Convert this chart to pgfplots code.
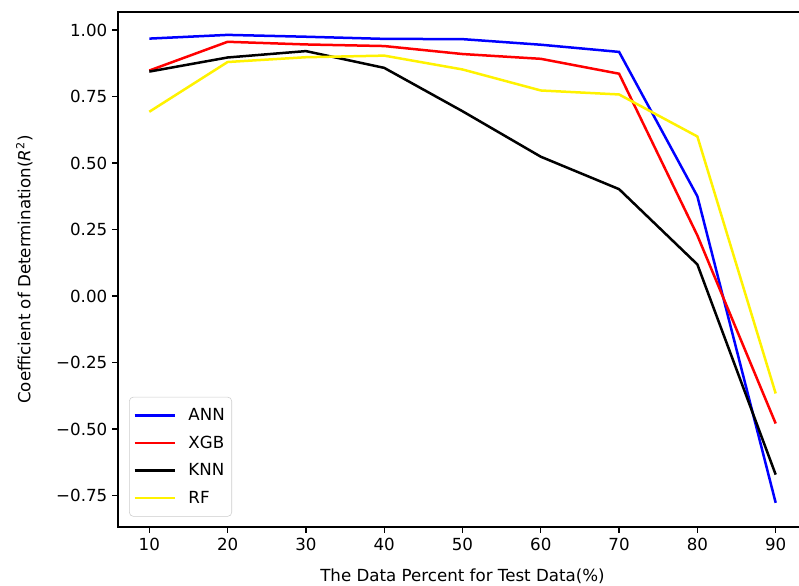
\documentclass[border=0pt]{standalone}
\usepackage{fontspec}
\setmainfont{DejaVu Sans}
\usepackage{pgfplots}
\pgfplotsset{compat=1.18}
\newcommand{\fs}{\fontsize{12}{14.4}\selectfont}
\begin{document}
\begin{tikzpicture}
\useasboundingbox (0,0) rectangle (575.28pt,421.2pt);
\begin{axis}[
    at={(84.96pt,41.76pt)}, anchor=south west,
    scale only axis,
    width=496.08pt, height=370.8pt,
    xmin=6, xmax=94,
    ymin=-0.868, ymax=1.068,
    xtick={10,20,30,40,50,60,70,80,90},
    ytick={-0.75,-0.5,-0.25,0,0.25,0.5,0.75,1},
    yticklabels={−0.75,−0.50,−0.25,0.00,0.25,0.50,0.75,1.00},
    tick pos=left,
    tick align=outside,
    major tick length=4.2pt,
    every tick/.style={black, line width=0.96pt},
    axis line style={line width=0.96pt},
    tick label style={font=\fs},
    /pgf/number format/assume math mode=true,
    xlabel={The Data Percent for Test Data(\%)},
    ylabel={Coefficient of Determination(\textit{R}\textsuperscript{2})},
    label style={font=\fs},
    xlabel style={at={(axis description cs:0.5,-0.095)}, anchor=center},
    ylabel style={at={(axis description cs:-0.136,0.5)}, anchor=center},
    no markers,
    legend style={
        at={(axis description cs:0.016,0.02)},
        anchor=south west,
        draw={rgb,255:red,204;green,204;blue,204},
        fill=white, fill opacity=0.8, text opacity=1,
        rounded corners=3pt,
        font=\fs,
        row sep=5.6pt,
        inner xsep=3pt, inner ysep=6pt,
        cells={anchor=west},
        /tikz/every even column/.append style={column sep=0pt},
        /tikz/every odd column/.append style={column sep=7pt},
    },
    legend image code/.code={\draw[#1, line width=1.8pt] (0pt,0pt) -- (28.8pt,0pt);},
]

\addplot[color=blue, line width=1.8pt] coordinates {
    (10,0.968) (20,0.982) (30,0.975) (40,0.967) (50,0.966)
    (60,0.945) (70,0.918) (80,0.375) (90,-0.777)
};
\addlegendentry{ANN}

\addplot[color=red, line width=1.8pt] coordinates {
    (10,0.848) (20,0.956) (30,0.946) (40,0.940) (50,0.910)
    (60,0.892) (70,0.836) (80,0.228) (90,-0.479)
};
\addlegendentry{XGB}

\addplot[color=black, line width=1.8pt] coordinates {
    (10,0.844) (20,0.897) (30,0.921) (40,0.858) (50,0.695)
    (60,0.524) (70,0.402) (80,0.119) (90,-0.671)
};
\addlegendentry{KNN}

\addplot[color=yellow, line width=1.8pt] coordinates {
    (10,0.693) (20,0.880) (30,0.898) (40,0.904) (50,0.852)
    (60,0.773) (70,0.758) (80,0.600) (90,-0.366)
};
\addlegendentry{RF}

\end{axis}
\end{tikzpicture}
\end{document}
